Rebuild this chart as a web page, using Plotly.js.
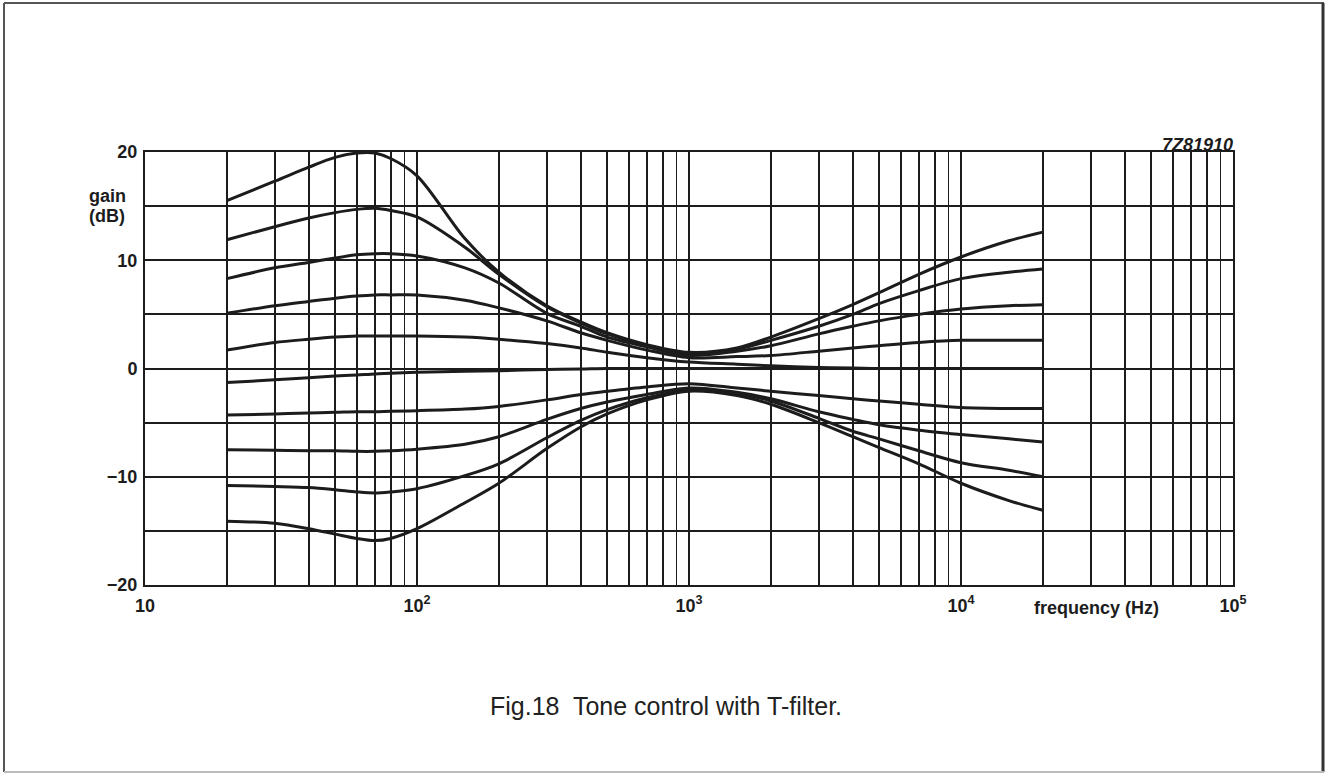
<!DOCTYPE html>
<html>
<head>
<meta charset="utf-8">
<script src="https://cdn.plot.ly/plotly-3.0.1.min.js"></script>
<style>
  html, body { margin: 0; padding: 0; background: #ffffff; }
  #chart { width: 1326px; height: 774px; }
</style>
</head>
<body>
<div id="chart"></div>
<script>
// Frequency points (Hz) shared by all curves
const freq = [20, 30, 40, 50, 60, 70, 80, 100, 150, 200, 300, 400, 500, 700,
              1000, 1500, 2000, 3000, 4000, 5000, 7000, 10000, 15000, 20000];

// Gain (dB) of each tone-control setting
const gainA = [15.5, 17.3, 18.6, 19.5, 19.9, 19.9, 19.4, 17.8, 12.0, 8.9, 5.8, 4.3, 3.3, 2.2,
               1.5, 1.9, 2.9, 4.6, 5.9, 7.0, 8.7, 10.3, 11.8, 12.6];
const gainB = [11.9, 13.1, 13.9, 14.4, 14.7, 14.8, 14.6, 14.0, 11.2, 8.7, 5.7, 4.2, 3.2, 2.1,
               1.4, 1.8, 2.6, 3.9, 5.0, 6.0, 7.2, 8.3, 8.9, 9.2];
const gainC = [8.3, 9.3, 9.8, 10.2, 10.5, 10.6, 10.6, 10.4, 9.3, 7.9, 5.1, 3.9, 2.9, 2.0,
               1.2, 1.6, 2.1, 3.2, 3.9, 4.4, 5.0, 5.5, 5.8, 5.9];
const gainD = [5.1, 5.8, 6.2, 6.5, 6.7, 6.8, 6.8, 6.8, 6.3, 5.6, 4.4, 3.3, 2.6, 1.7,
               1.0, 1.1, 1.2, 1.6, 1.9, 2.1, 2.4, 2.6, 2.6, 2.6];
const gainE = [1.7, 2.4, 2.7, 2.9, 3.0, 3.0, 3.0, 3.0, 2.9, 2.7, 2.3, 1.9, 1.5, 1.0,
               0.6, 0.4, 0.25, 0.1, 0.05, 0, 0, 0, 0, 0];
const gainF = [-1.3, -1.05, -0.85, -0.7, -0.6, -0.5, -0.45, -0.35, -0.25, -0.2, -0.1, -0.05, 0, 0,
               0, 0, 0, 0, 0, 0, 0, 0, 0, 0];
const gainG = [-4.3, -4.2, -4.1, -4.05, -4.0, -4.0, -3.95, -3.9, -3.75, -3.5, -2.9, -2.4, -2.1, -1.7,
               -1.4, -1.8, -2.1, -2.5, -2.8, -3.0, -3.3, -3.6, -3.7, -3.7];
const gainH = [-7.5, -7.55, -7.6, -7.6, -7.65, -7.65, -7.6, -7.45, -7.0, -6.3, -4.7, -3.7, -3.1, -2.4,
               -1.8, -2.2, -2.8, -4.0, -4.7, -5.2, -5.7, -6.1, -6.5, -6.8];
const gainI = [-10.8, -10.9, -11.0, -11.2, -11.4, -11.5, -11.4, -11.1, -9.9, -8.8, -6.4, -4.8, -3.8, -2.7,
               -2.0, -2.3, -3.0, -4.6, -5.8, -6.5, -7.6, -8.7, -9.4, -10.0];
const gainJ = [-14.1, -14.3, -14.8, -15.3, -15.7, -15.9, -15.7, -14.8, -12.4, -10.6, -7.4, -5.4, -4.2, -2.9,
               -2.1, -2.5, -3.3, -5.0, -6.3, -7.3, -8.8, -10.6, -12.2, -13.1];

const curves = [gainA, gainB, gainC, gainD, gainE, gainF, gainG, gainH, gainI, gainJ];

// Tick / grid positions and labels
const xMajor = [10, 100, 1000, 10000, 100000];
const xMajorText = ['10', '10<sup>2</sup>', '10<sup>3</sup>', '10<sup>4</sup>', '10<sup>5</sup>'];
const xMinor = [20, 30, 40, 50, 60, 70, 80, 90,
                200, 300, 400, 500, 600, 700, 800, 900,
                2000, 3000, 4000, 5000, 6000, 7000, 8000, 9000,
                20000, 30000, 40000, 50000, 60000, 70000, 80000, 90000];
const yMajor = [-20, -10, 0, 10, 20];
const yMajorText = ['\u221220', '\u221210', '0', '10', '20'];
const yMinor = [-15, -5, 5, 15];

const ink = '#1c1c1c';
const traces = curves.map(g => ({
  x: freq, y: g, type: 'scatter', mode: 'lines',
  line: {color: ink, width: 3, shape: 'spline', smoothing: 0.9},
  hoverinfo: 'skip', showlegend: false
}));

const L = 145, R = 1233, T = 152, B = 585;
const W = R - L, H = B - T;
const px = v => (v - L) / W;
const py = v => (B - v) / H;

const fam = 'Liberation Sans, Arial, sans-serif';
const axisFont = {family: fam, size: 18, color: ink, weight: 'bold'};

const layout = {
  width: 1326, height: 774,
  margin: {l: L, r: 1326 - R, t: T, b: 774 - B},
  paper_bgcolor: '#ffffff', plot_bgcolor: '#ffffff',
  showlegend: false,
  xaxis: {
    type: 'log', range: [1, 5],
    tickmode: 'array', tickvals: xMajor, ticktext: xMajorText,
    showgrid: true, gridcolor: ink, gridwidth: 2,
    minor: {tickmode: 'array', tickvals: xMinor, showgrid: true, gridcolor: ink, gridwidth: 1.8, ticks: ''},
    showline: true, linecolor: ink, linewidth: 2, mirror: true,
    ticks: '', zeroline: false, tickfont: axisFont, ticklabelstandoff: 3,
    fixedrange: true
  },
  yaxis: {
    range: [-20, 20],
    tickmode: 'array', tickvals: yMajor, ticktext: yMajorText,
    showgrid: true, gridcolor: ink, gridwidth: 2,
    minor: {tickmode: 'array', tickvals: yMinor, showgrid: true, gridcolor: ink, gridwidth: 2, ticks: ''},
    showline: true, linecolor: ink, linewidth: 2, mirror: true,
    ticks: '', zeroline: false, tickfont: axisFont, ticklabelstandoff: 2,
    fixedrange: true
  },
  annotations: [
    {text: 'gain', xref: 'paper', yref: 'paper', x: px(87), y: py(196), xanchor: 'left', yanchor: 'middle',
     showarrow: false, font: axisFont},
    {text: '(dB)', xref: 'paper', yref: 'paper', x: px(87), y: py(216), xanchor: 'left', yanchor: 'middle',
     showarrow: false, font: axisFont},
    {text: 'frequency (Hz)', xref: 'paper', yref: 'paper', x: px(1096), y: py(608), xanchor: 'center', yanchor: 'middle',
     showarrow: false, font: {family: fam, size: 18, color: ink, weight: 'bold'}},
    {text: '<i>7Z81910</i>', xref: 'paper', yref: 'paper', x: px(1235), y: py(145), xanchor: 'right', yanchor: 'middle',
     showarrow: false, font: {family: fam, size: 18, color: ink, weight: 'bold'}},
    {text: 'Fig.18  Tone control with T-filter.', xref: 'paper', yref: 'paper', x: px(666), y: py(706),
     xanchor: 'center', yanchor: 'middle', showarrow: false,
     font: {family: fam, size: 25, color: '#222222'}}
  ],
  shapes: [
    {type: 'line', xref: 'paper', yref: 'paper', x0: px(4), x1: px(1324), y0: py(3), y1: py(3), line: {color: '#555555', width: 2}},
    {type: 'line', xref: 'paper', yref: 'paper', x0: px(4), x1: px(4), y0: py(3), y1: py(772), line: {color: '#555555', width: 2}},
    {type: 'line', xref: 'paper', yref: 'paper', x0: px(1323), x1: px(1323), y0: py(3), y1: py(772), line: {color: '#333333', width: 3}},
    {type: 'line', xref: 'paper', yref: 'paper', x0: px(4), x1: px(1324), y0: py(772), y1: py(772), line: {color: '#bbbbbb', width: 2}}
  ]
};

Plotly.newPlot('chart', traces, layout, {displayModeBar: false, staticPlot: true});
</script>
</body>
</html>
